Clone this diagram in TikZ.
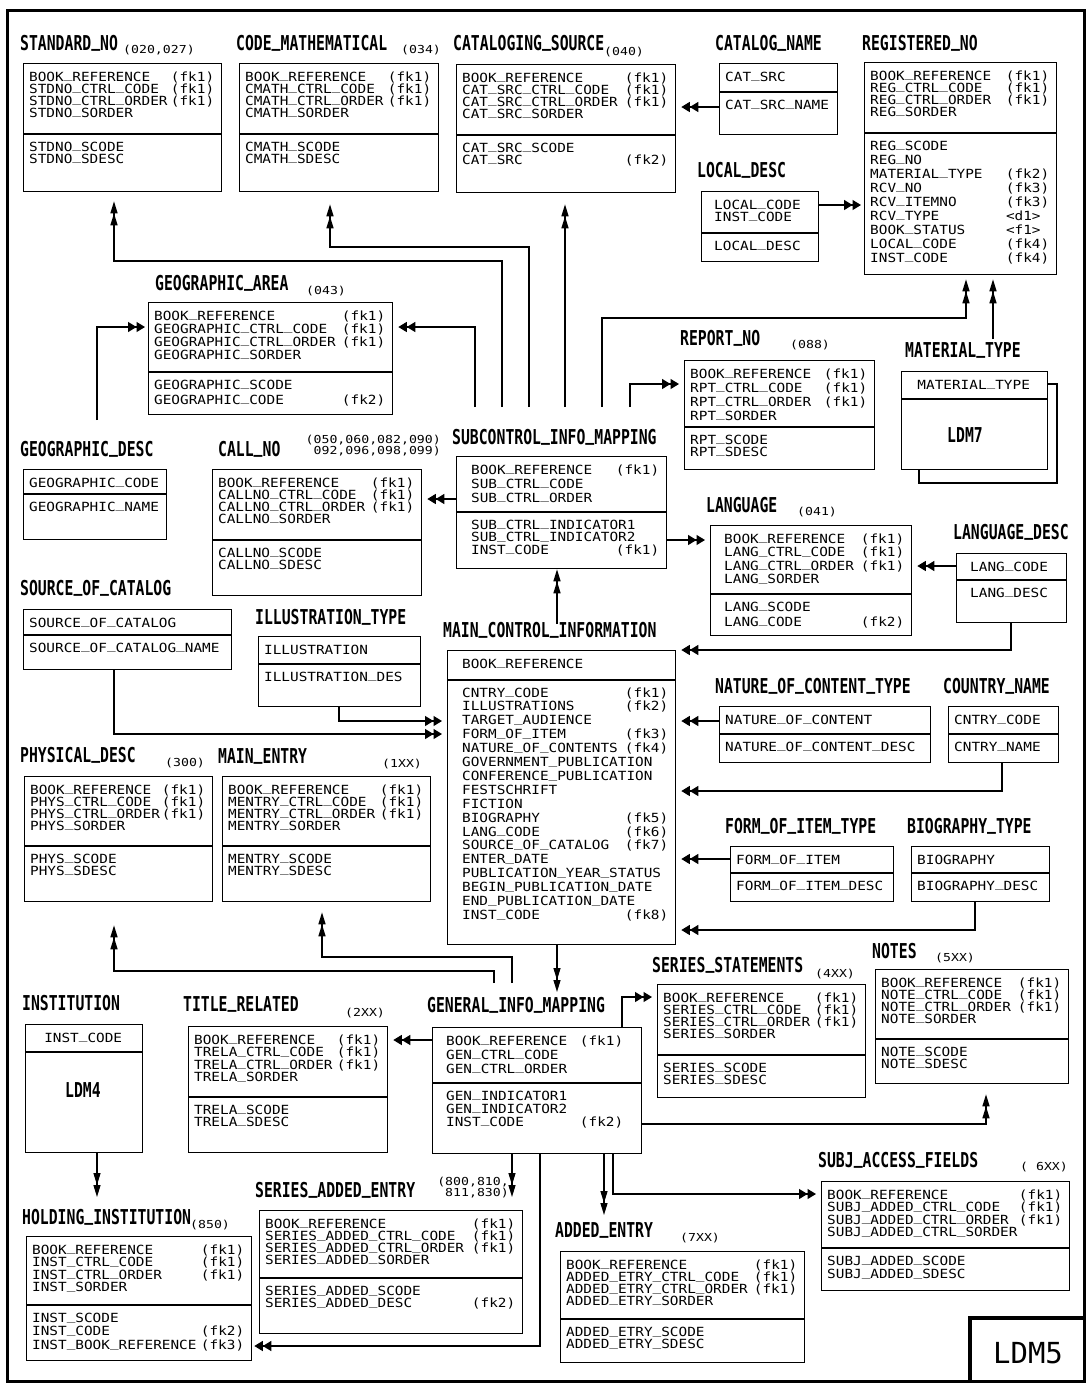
\documentclass[tikz,border=0pt]{standalone}
\usepackage{fontspec}
\setmonofont{DejaVu Sans Mono}
\newfontfamily\fldfam[FakeStretch=1.14]{DejaVu Sans Mono}
\newfontfamily\ttlfam[FakeStretch=0.72]{DejaVu Sans Mono}
\newfontfamily\numfam[FakeStretch=1.2]{DejaVu Sans Mono}
\usetikzlibrary{arrows.meta,positioning,calc}

\newcommand\fldfont{\fldfam\fontsize{12.6}{12.6}\selectfont}
\newcommand\ttlfont{\ttlfam\bfseries\fontsize{20.5}{20.5}\selectfont}
\newcommand\numfont{\numfam\fontsize{11}{10.5}\selectfont\lineskiplimit=-\maxdimen}
\newcommand\ldmfont{\ttfamily\fontsize{29}{29}\selectfont}

\newdimen\fldpitch \newdimen\fldwidth \newdimen\fldind
\newcommand\fld[2]{\hbox to\fldwidth{\vrule height.75\fldpitch depth.25\fldpitch width0pt\hskip\fldind\smash{#1}\hfill\smash{#2}}}
\newcommand\cfld[1]{\hbox to\fldwidth{\vrule height.75\fldpitch depth.25\fldpitch width0pt\hfill\smash{#1}\hfill}}
\newcommand\fields[1]{\vtop{\offinterlineskip\fldind=0pt #1}}

\tikzset{
  ent/.style  = {draw, line width=1.3pt, anchor=north west, inner sep=0pt},
  flds/.style = {anchor=base west, inner sep=0pt, font=\fldfont},
  ttl/.style  = {anchor=base west, inner sep=0pt, font=\ttlfont},
  num/.style  = {anchor=base west, inner sep=0pt, font=\numfont},
  lnk/.style  = {line width=1.3pt},
  harr/.style = {lnk, -{Triangle[length=8.5pt,width=10pt]Triangle[length=8.5pt,width=10pt]}, shorten >=#1},
  harr/.default = 5pt,
  varr/.style = {lnk, -{Triangle[length=12pt,width=7pt]Triangle[length=12pt,width=7pt]}, shorten >=#1},
  varr/.default = 9pt,
}

% name, x1, y1, x2, y2, divider, row pitch, key rows, other rows
\newcommand\entity[9]{%
  \node[ent, minimum width={(#4-#2)*1pt}, minimum height={(#5-#3)*1pt}] (#1) at (#2,#3) {};
  \draw[lnk] (#2,#6) -- (#4,#6);
  \fldwidth=\dimexpr#4pt-#2pt-13pt\relax
  \fldpitch=#7pt
  \node[flds] (#1-k) at (#2+6,#3+18) {\fields{#8}};
  \node[flds] (#1-a) at (#2+6,#6+17) {\fields{#9}};
}

\begin{document}
\catcode`\_=\active
\def_{\raisebox{.16em}{\string_}}
\begin{tikzpicture}[x=1pt,y=-1pt]
  \fill[white] (0,0) rectangle (1091,1385);
  \useasboundingbox (0,0) rectangle (1091,1385);
  \draw[line width=3pt] (7,10) rectangle (1084,1381);
  \draw[line width=4.5pt] (970,1381) |- (1084,1318);
  \node[font=\ldmfont, anchor=base] (ldm5) at (1028,1363) {LDM5};

  % top row
  \entity{stdno}{23}{63}{221}{191}{134}{12}
    {\fld{BOOK_REFERENCE}{(fk1)}\fld{STDNO_CTRL_CODE}{(fk1)}\fld{STDNO_CTRL_ORDER}{(fk1)}\fld{STDNO_SORDER}{}}
    {\fld{STDNO_SCODE}{}\fld{STDNO_SDESC}{}}
  \entity{cmath}{239}{63}{438}{191}{134}{12}
    {\fld{BOOK_REFERENCE}{(fk1)}\fld{CMATH_CTRL_CODE}{(fk1)}\fld{CMATH_CTRL_ORDER}{(fk1)}\fld{CMATH_SORDER}{}}
    {\fld{CMATH_SCODE}{}\fld{CMATH_SDESC}{}}
  \entity{catsrc}{456}{64}{675}{192}{135}{12}
    {\fld{BOOK_REFERENCE}{(fk1)}\fld{CAT_SRC_CTRL_CODE}{(fk1)}\fld{CAT_SRC_CTRL_ORDER}{(fk1)}\fld{CAT_SRC_SORDER}{}}
    {\fld{CAT_SRC_SCODE}{}\fld{CAT_SRC}{(fk2)}}
  \entity{catname}{719}{63}{837}{134}{92}{10}{\fld{CAT_SRC}{}}{\fld{CAT_SRC_NAME}{}}
  \entity{regno}{864}{62}{1056}{274}{133}{12}
    {\fld{BOOK_REFERENCE}{(fk1)}\fld{REG_CTRL_CODE}{(fk1)}\fld{REG_CTRL_ORDER}{(fk1)}\fld{REG_SORDER}{}}
    {\fldpitch=14pt \fld{REG_SCODE}{}\fld{REG_NO}{}\fld{MATERIAL_TYPE}{(fk2)}\fld{RCV_NO}{(fk3)}\fld{RCV_ITEMNO}{(fk3)}%
     \fld{RCV_TYPE}{<d1>\hskip8.6pt}\fld{BOOK_STATUS}{<f1>\hskip8.6pt}\fld{LOCAL_CODE}{(fk4)}\fld{INST_CODE}{(fk4)}}
  \entity{local}{701}{191}{818}{261}{233}{12}{\fldind=7pt \fld{LOCAL_CODE}{}\fld{INST_CODE}{}}{\fldind=7pt \fld{LOCAL_DESC}{}}

  \node[ttl] (stdno-t) at (20,50) {STANDARD_NO};
  \node[num] (stdno-n) at (123,53) {(020,027)};
  \node[ttl] (cmath-t) at (236,50) {CODE_MATHEMATICAL};
  \node[num] (cmath-n) at (401,53) {(034)};
  \node[ttl] (catsrc-t) at (453,50) {CATALOGING_SOURCE};
  \node[num] (catsrc-n) at (604,55) {(040)};
  \node[ttl] (catname-t) at (715,50) {CATALOG_NAME};
  \node[ttl] (regno-t) at (862,50) {REGISTERED_NO};
  \node[ttl] (local-t) at (697,177) {LOCAL_DESC};

  % second band
  \entity{geo}{148}{302}{392}{414}{372}{13}
    {\fld{BOOK_REFERENCE}{(fk1)}\fld{GEOGRAPHIC_CTRL_CODE}{(fk1)}\fld{GEOGRAPHIC_CTRL_ORDER}{(fk1)}\fld{GEOGRAPHIC_SORDER}{}}
    {\fldpitch=15pt \fld{GEOGRAPHIC_SCODE}{}\fld{GEOGRAPHIC_CODE}{(fk2)}}
  \entity{rpt}{684}{360}{874}{469}{427}{14}
    {\fld{BOOK_REFERENCE}{(fk1)}\fld{RPT_CTRL_CODE}{(fk1)}\fld{RPT_CTRL_ORDER}{(fk1)}\fld{RPT_SORDER}{}}
    {\fldpitch=12pt \fld{RPT_SCODE}{}\fld{RPT_SDESC}{}}
  \entity{mat}{901}{371}{1047}{469}{399}{10}{\cfld{MATERIAL_TYPE}}{}
  \node[ttl, anchor=base] (mat-l) at (965,442) {LDM7};
  \draw[lnk] (1047,384) -| (1057,483) -| (919,469);
  \entity{geod}{23}{469}{166}{539}{494}{10}{\fld{GEOGRAPHIC_CODE}{}}{\fld{GEOGRAPHIC_NAME}{}}
  \entity{callno}{212}{469}{421}{595}{540}{12}
    {\fld{BOOK_REFERENCE}{(fk1)}\fld{CALLNO_CTRL_CODE}{(fk1)}\fld{CALLNO_CTRL_ORDER}{(fk1)}\fld{CALLNO_SORDER}{}}
    {\fld{CALLNO_SCODE}{}\fld{CALLNO_SDESC}{}}
  \entity{sub}{456}{456}{666}{568}{512}{14}
    {\fldind=9pt \fld{BOOK_REFERENCE}{(fk1)}\fld{SUB_CTRL_CODE}{}\fld{SUB_CTRL_ORDER}{}}
    {\fldind=9pt \fldpitch=12.5pt \fld{SUB_CTRL_INDICATOR1}{}\fld{SUB_CTRL_INDICATOR2}{}\fld{INST_CODE}{(fk1)}}
  \entity{lang}{710}{525}{911}{635}{594}{13.5}
    {\fldind=8pt \fld{BOOK_REFERENCE}{(fk1)}\fld{LANG_CTRL_CODE}{(fk1)}\fld{LANG_CTRL_ORDER}{(fk1)}\fld{LANG_SORDER}{}}
    {\fldind=8pt \fldpitch=15pt \fld{LANG_SCODE}{}\fld{LANG_CODE}{(fk2)}}
  \entity{langd}{956}{553}{1066}{622}{580}{10}{\fldind=8pt \fld{LANG_CODE}{}}{\fldind=8pt \fld{LANG_DESC}{}}
  \entity{soc}{23}{609}{231}{669}{635}{10}{\fld{SOURCE_OF_CATALOG}{}}{\fld{SOURCE_OF_CATALOG_NAME}{}}
  \entity{illu}{258}{636}{420}{706}{664}{10}{\fld{ILLUSTRATION}{}}{\fld{ILLUSTRATION_DES}{}}

  \node[ttl] (geo-t) at (155,290) {GEOGRAPHIC_AREA};
  \node[num] (geo-n) at (306,294) {(043)};
  \node[ttl] (rpt-t) at (680,345) {REPORT_NO};
  \node[num] (rpt-n) at (790,348) {(088)};
  \node[ttl] (mat-t) at (905,357) {MATERIAL_TYPE};
  \node[ttl] (geod-t) at (20,456) {GEOGRAPHIC_DESC};
  \node[ttl] (callno-t) at (218,456) {CALL_NO};
  \node[num, anchor=north east, align=right] (callno-n) at (441,435) {(050,060,082,090)\\092,096,098,099)};
  \node[ttl] (sub-t) at (452,444) {SUBCONTROL_INFO_MAPPING};
  \node[ttl] (lang-t) at (706,512) {LANGUAGE};
  \node[num] (lang-n) at (797,515) {(041)};
  \node[ttl] (langd-t) at (953,539) {LANGUAGE_DESC};
  \node[ttl] (soc-t) at (20,595) {SOURCE_OF_CATALOG};
  \node[ttl] (illu-t) at (255,624) {ILLUSTRATION_TYPE};

  % main control band
  \entity{mci}{447}{650}{675}{944}{680}{13.9}
    {\fldind=9pt \fld{BOOK_REFERENCE}{}}
    {\fldind=9pt \fld{CNTRY_CODE}{(fk1)}\fld{ILLUSTRATIONS}{(fk2)}\fld{TARGET_AUDIENCE}{}\fld{FORM_OF_ITEM}{(fk3)}%
     \fld{NATURE_OF_CONTENTS}{(fk4)}\fld{GOVERNMENT_PUBLICATION}{}\fld{CONFERENCE_PUBLICATION}{}\fld{FESTSCHRIFT}{}%
     \fld{FICTION}{}\fld{BIOGRAPHY}{(fk5)}\fld{LANG_CODE}{(fk6)}\fld{SOURCE_OF_CATALOG}{(fk7)}\fld{ENTER_DATE}{}%
     \fld{PUBLICATION_YEAR_STATUS}{}\fld{BEGIN_PUBLICATION_DATE}{}\fld{END_PUBLICATION_DATE}{}\fld{INST_CODE}{(fk8)}}
  \entity{nat}{719}{706}{930}{762}{734}{10}{\fld{NATURE_OF_CONTENT}{}}{\fld{NATURE_OF_CONTENT_DESC}{}}
  \entity{cntry}{948}{706}{1058}{762}{734}{10}{\fld{CNTRY_CODE}{}}{\fld{CNTRY_NAME}{}}
  \entity{form}{730}{846}{893}{901}{873}{10}{\fld{FORM_OF_ITEM}{}}{\fld{FORM_OF_ITEM_DESC}{}}
  \entity{bio}{911}{846}{1049}{901}{873}{10}{\fld{BIOGRAPHY}{}}{\fld{BIOGRAPHY_DESC}{}}
  \entity{phys}{24}{776}{212}{901}{846}{12}
    {\fld{BOOK_REFERENCE}{(fk1)}\fld{PHYS_CTRL_CODE}{(fk1)}\fld{PHYS_CTRL_ORDER}{(fk1)}\fld{PHYS_SORDER}{}}
    {\fld{PHYS_SCODE}{}\fld{PHYS_SDESC}{}}
  \entity{mentry}{222}{776}{430}{901}{846}{12}
    {\fld{BOOK_REFERENCE}{(fk1)}\fld{MENTRY_CTRL_CODE}{(fk1)}\fld{MENTRY_CTRL_ORDER}{(fk1)}\fld{MENTRY_SORDER}{}}
    {\fld{MENTRY_SCODE}{}\fld{MENTRY_SDESC}{}}

  \node[ttl] (mci-t) at (443,637) {MAIN_CONTROL_INFORMATION};
  \node[ttl] (nat-t) at (715,693) {NATURE_OF_CONTENT_TYPE};
  \node[ttl] (cntry-t) at (943,693) {COUNTRY_NAME};
  \node[ttl] (form-t) at (725,833) {FORM_OF_ITEM_TYPE};
  \node[ttl] (bio-t) at (907,833) {BIOGRAPHY_TYPE};
  \node[ttl] (phys-t) at (20,762) {PHYSICAL_DESC};
  \node[num] (phys-n) at (165,766) {(300)};
  \node[ttl] (mentry-t) at (218,763) {MAIN_ENTRY};
  \node[num] (mentry-n) at (382,767) {(1XX)};

  % general info band
  \entity{gen}{432}{1027}{641}{1153}{1083}{14}
    {\fldind=8pt \fld{BOOK_REFERENCE}{(fk1)\hskip11pt}\fld{GEN_CTRL_CODE}{}\fld{GEN_CTRL_ORDER}{}}
    {\fldind=8pt \fldpitch=13pt \fld{GEN_INDICATOR1}{}\fld{GEN_INDICATOR2}{}\fld{INST_CODE}{(fk2)\hskip11pt}}
  \entity{sst}{657}{984}{865}{1097}{1055}{12}
    {\fld{BOOK_REFERENCE}{(fk1)}\fld{SERIES_CTRL_CODE}{(fk1)}\fld{SERIES_CTRL_ORDER}{(fk1)}\fld{SERIES_SORDER}{}}
    {\fld{SERIES_SCODE}{}\fld{SERIES_SDESC}{}}
  \entity{notes}{875}{969}{1068}{1083}{1039}{12}
    {\fld{BOOK_REFERENCE}{(fk1)}\fld{NOTE_CTRL_CODE}{(fk1)}\fld{NOTE_CTRL_ORDER}{(fk1)}\fld{NOTE_SORDER}{}}
    {\fld{NOTE_SCODE}{}\fld{NOTE_SDESC}{}}
  \entity{inst}{25}{1024}{142}{1152}{1052}{10}{\cfld{INST_CODE}}{}
  \node[ttl, anchor=base] (inst-l) at (83,1097) {LDM4};
  \entity{trela}{188}{1026}{387}{1152}{1097}{12.5}
    {\fld{BOOK_REFERENCE}{(fk1)}\fld{TRELA_CTRL_CODE}{(fk1)}\fld{TRELA_CTRL_ORDER}{(fk1)}\fld{TRELA_SORDER}{}}
    {\fldpitch=12pt \fld{TRELA_SCODE}{}\fld{TRELA_SDESC}{}}
  \entity{hold}{26}{1236}{251}{1360}{1305}{12.5}
    {\fld{BOOK_REFERENCE}{(fk1)}\fld{INST_CTRL_CODE}{(fk1)}\fld{INST_CTRL_ORDER}{(fk1)}\fld{INST_SORDER}{}}
    {\fldpitch=13.5pt \fld{INST_SCODE}{}\fld{INST_CODE}{(fk2)}\fld{INST_BOOK_REFERENCE}{(fk3)}}
  \entity{sae}{259}{1210}{522}{1333}{1278}{12}
    {\fld{BOOK_REFERENCE}{(fk1)}\fld{SERIES_ADDED_CTRL_CODE}{(fk1)}\fld{SERIES_ADDED_CTRL_ORDER}{(fk1)}\fld{SERIES_ADDED_SORDER}{}}
    {\fld{SERIES_ADDED_SCODE}{}\fld{SERIES_ADDED_DESC}{(fk2)}}
  \entity{added}{560}{1251}{804}{1362}{1319}{12}
    {\fld{BOOK_REFERENCE}{(fk1)}\fld{ADDED_ETRY_CTRL_CODE}{(fk1)}\fld{ADDED_ETRY_CTRL_ORDER}{(fk1)}\fld{ADDED_ETRY_SORDER}{}}
    {\fld{ADDED_ETRY_SCODE}{}\fld{ADDED_ETRY_SDESC}{}}
  \entity{subj}{821}{1181}{1069}{1290}{1248}{12.5}
    {\fld{BOOK_REFERENCE}{(fk1)}\fld{SUBJ_ADDED_CTRL_CODE}{(fk1)}\fld{SUBJ_ADDED_CTRL_ORDER}{(fk1)}\fld{SUBJ_ADDED_CTRL_SORDER}{}}
    {\fldpitch=13pt \fld{SUBJ_ADDED_SCODE}{}\fld{SUBJ_ADDED_SDESC}{}}

  \node[ttl] (gen-t) at (427,1012) {GENERAL_INFO_MAPPING};
  \node[ttl] (sst-t) at (652,972) {SERIES_STATEMENTS};
  \node[num] (sst-n) at (815,977) {(4XX)};
  \node[ttl] (notes-t) at (872,958) {NOTES};
  \node[num] (notes-n) at (935,961) {(5XX)};
  \node[ttl] (inst-t) at (22,1010) {INSTITUTION};
  \node[ttl] (trela-t) at (183,1011) {TITLE_RELATED};
  \node[num] (trela-n) at (345,1016) {(2XX)};
  \node[ttl] (subj-t) at (818,1167) {SUBJ_ACCESS_FIELDS};
  \node[num] (subj-n) at (1020,1170) {(\ 6XX)};
  \node[ttl] (sae-t) at (255,1197) {SERIES_ADDED_ENTRY};
  \node[num, anchor=north east, align=right] (sae-n) at (509,1177) {(800,810,\\811,830)};
  \node[ttl] (hold-t) at (22,1224) {HOLDING_INSTITUTION};
  \node[num] (hold-n) at (190,1228) {(850)};
  \node[ttl] (added-t) at (555,1237) {ADDED_ENTRY};
  \node[num] (added-n) at (680,1241) {(7XX)};

  % connectors
  \foreach \n/\x in {1/475,2/502,3/529,4/565,5/602,6/630} \coordinate (sub-s\n) at (\x,407);
  \coordinate (geod-s) at (97,420);
  \coordinate (mat-s) at (993,339);
  \coordinate (mci-s) at (557,624);
  \coordinate (gen-s1) at (494,983);
  \coordinate (gen-s2) at (512,983);
  \coordinate (gen-in) at (557,992);
  \coordinate (sae-in) at (512,1197);
  \coordinate (added-in) at (604,1215);
  \coordinate (hold-in) at (97,1197);

  \draw[harr] (sub-s1) |- (geo.east |- 0,327);
  \draw[varr=9pt] (sub-s2) |- (114,261) -- (114,0 |- stdno.south);
  \draw[varr=12pt] (sub-s3) |- (330,247) -- (330,0 |- cmath.south);
  \draw[varr=11pt] (sub-s4) -- (565,0 |- catsrc.south);
  \draw[varr=4pt] (sub-s5) |- (966,318) -- (966,0 |- regno.south);
  \draw[harr] (sub-s6) |- (rpt.west |- 0,384);
  \draw[harr] (catname.west |- 0,107) -- (catsrc.east |- 0,107);
  \draw[harr=3pt] (local.east |- 0,205) -- (regno.west |- 0,205);
  \draw[harr=3pt] (geod-s) |- (geo.west |- 0,327);
  \draw[varr=4pt] (mat-s) -- (993,0 |- regno.south);
  \draw[harr] (sub.west |- 0,499) -- (callno.east |- 0,499);
  \draw[harr] (sub.east |- 0,540) -- (lang.west |- 0,540);
  \draw[varr=0pt] (mci-s) -- (557,0 |- sub.south);
  \draw[harr] (langd.west |- 0,566) -- (lang.east |- 0,566);
  \draw[harr] (1011,0 |- langd.south) |- (mci.east |- 0,650);
  \draw[harr] (nat.west |- 0,721) -- (mci.east |- 0,721);
  \draw[harr] (1002,0 |- cntry.south) |- (mci.east |- 0,791);
  \draw[harr] (form.west |- 0,859) -- (mci.east |- 0,859);
  \draw[harr] (975,0 |- bio.south) |- (mci.east |- 0,930);
  \draw[harr] (339,0 |- illu.south) |- (mci.west |- 0,721);
  \draw[harr] (114,0 |- soc.south) |- (mci.west |- 0,734);
  \draw[varr=0pt] (557,0 |- mci.south) -- (gen-in);
  \draw[varr=10pt] (gen-s2) |- (322,957) -- (322,0 |- mentry.south);
  \draw[varr=23pt] (gen-s1) |- (114,971) -- (114,0 |- phys.south);
  \draw[harr] (gen.west |- 0,1040) -- (trela.east |- 0,1040);
  \draw[harr] (622,0 |- gen.north) |- (sst.west |- 0,997);
  \draw[varr=10pt] (gen.east |- 0,1124) -| (986,0 |- notes.south);
  \draw[varr=0pt] (512,0 |- gen.south) -- (sae-in);
  \draw[harr=2pt] (540,0 |- gen.south) |- (hold.east |- 0,1346);
  \draw[varr=0pt] (604,0 |- gen.south) -- (added-in);
  \draw[harr] (613,0 |- gen.south) |- (subj.west |- 0,1194);
  \draw[varr=0pt] (97,0 |- inst.south) -- (hold-in);
\end{tikzpicture}
\end{document}
